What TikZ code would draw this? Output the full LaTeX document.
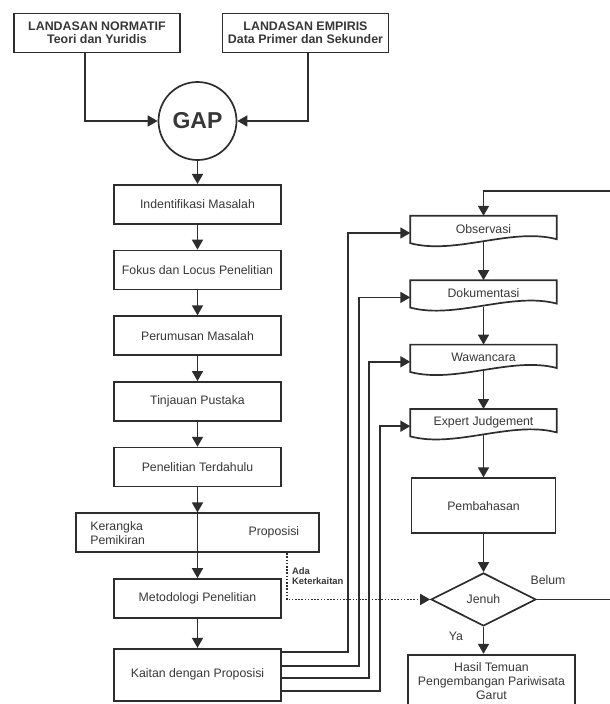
\documentclass[tikz,border=0pt]{standalone}
\usepackage{fontspec}
\setmainfont{Liberation Sans}
\usepackage{tikz}
\usetikzlibrary{positioning,shapes.geometric,arrows.meta,calc}
\definecolor{ink}{RGB}{45,45,45}
\definecolor{txt}{RGB}{55,55,55}

\begin{document}
\begin{tikzpicture}[
  x=1pt, y=-1pt,
  every node/.style={font=\fontsize{12.3}{14}\selectfont, text=txt},
  box/.style={rectangle, draw=ink, line width=1.7pt, minimum width=167pt,
              minimum height=39pt, inner sep=2pt, align=center},
  topbox/.style={box, minimum width=166pt, font=\fontsize{12.4}{13}\selectfont\bfseries},
  doc/.style={rectangle, minimum width=146pt, minimum height=26pt, inner sep=2pt},
  decision/.style={diamond, draw=ink, line width=1.7pt, minimum width=105pt,
                   minimum height=53pt, inner sep=0pt},
  arr/.style={draw=ink, line width=1.7pt, -{Triangle[length=10pt,width=11pt]}},
  dotarr/.style={arr, dash pattern=on 1.6pt off 1.6pt},
  lbl/.style={inner sep=0pt},
  node distance=25pt
]
  \useasboundingbox (0,0) rectangle (610,704);

  % landasan dan gap
  \node[topbox] (norm) at (97,33) {LANDASAN NORMATIF\\Teori dan Yuridis};
  \node[topbox] (emp) at (305.5,33) {LANDASAN EMPIRIS\\Data Primer dan Sekunder};
  \node[circle, draw=ink, line width=1.7pt, minimum size=78pt, inner sep=0pt,
        font=\fontsize{23}{23}\selectfont\bfseries] (gap) at (197.5,121) {GAP};

  % kolom kiri
  \node[box] (ident) at (197.5,204.3) {Indentifikasi Masalah};
  \node[box, below=of ident] (fokus) {Fokus dan Locus Penelitian};
  \node[box, below=of fokus] (rumus) {Perumusan Masalah};
  \node[box, below=of rumus] (tinjau) {Tinjauan Pustaka};
  \node[box, below=of tinjau] (pen) {Penelitian Terdahulu};
  \node[box, minimum width=243pt, below=of pen] (krg) {};
  \node[lbl, anchor=west, align=left] (kp) at ([xshift=15pt]krg.west) {Kerangka\\Pemikiran};
  \node[lbl] (prop) at ([xshift=-46pt]krg.east) {Proposisi};
  \node[box, below=of krg] (met) {Metodologi Penelitian};
  \node[box, minimum height=52pt, below=29pt of met] (kai) {Kaitan dengan Proposisi};

  % kolom kanan
  \node[doc] (obs) at (483.5,229) {Observasi};
  \node[doc, below=38pt of obs] (dok) {Dokumentasi};
  \node[doc, below=38pt of dok] (waw) {Wawancara};
  \node[doc, below=38pt of waw] (exp) {Expert Judgement};
  \node[box, minimum width=144pt, minimum height=55pt, below=42pt of exp] (pem) {Pembahasan};
  \node[decision, below=38pt of pem] (jenuh) {Jenuh};
  \node[box, minimum width=167pt, minimum height=52pt, below=27pt of jenuh, xshift=8pt] (hasil)
    {Hasil Temuan\\Pengembangan Pariwisata\\Garut};

  \foreach \n in {obs,dok,waw,exp}
    \draw[ink, line width=1.7pt] ($(\n.south west)+(0,1)$) -- (\n.north west) -- (\n.north east)
      -- ($(\n.south east)+(0,-3)$) .. controls +(-45,-12) and +(45,12) .. cycle;

  \node[lbl, anchor=north west, align=left, font=\fontsize{9.4}{10.5}\selectfont\bfseries]
    (ada) at (292,567) {Ada\\Keterkaitan};
  \node[lbl] (belum) at (548,580) {Belum};
  \node[lbl] (ya) at (456,636) {Ya};

  % panah
  \draw[arr] (norm.south -| 85,0) |- (gap.west);
  \draw[arr] (emp.south -| 308,0) |- (gap.east);
  \draw[arr] (gap) -- (ident);
  \foreach \a/\b in {ident/fokus, fokus/rumus, rumus/tinjau, tinjau/pen, pen/krg, met/kai}
    \draw[arr] (\a) -- (\b);
  \draw[arr] (krg.north) -- (met);

  \foreach \a/\b in {obs/dok, dok/waw, waw/exp, exp/pem, pem/jenuh, jenuh/hasil.north -| jenuh}
    \draw[arr] (\a) -- (\b);

  \coordinate (loopR) at (615,191);
  \draw[arr] (jenuh.east) -| (loopR) -| (obs.north);

  \draw[dotarr] ([xshift=-33pt]krg.south east) |- (jenuh.west);

  \foreach \tgt/\xx/\yy in {obs/348/652, dok/359/666, waw/369/678, exp/380/691} {
    \coordinate (in\tgt) at ([yshift=-4pt]\tgt.west);
    \draw[arr] (kai.east |- 0,\yy) -| (in\tgt -| \xx,0) -- (in\tgt);
  }
\end{tikzpicture}
\end{document}
